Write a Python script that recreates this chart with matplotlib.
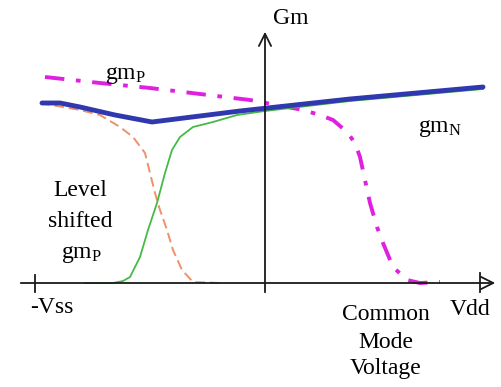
import matplotlib
matplotlib.use("Agg")
import matplotlib.pyplot as plt

plt.rcParams['font.family'] = ['Liberation Serif', 'DejaVu Serif']
plt.rcParams['mathtext.fontset'] = 'custom'
plt.rcParams['mathtext.rm'] = 'Liberation Serif'
plt.rcParams['mathtext.it'] = 'Liberation Serif:italic'

# Curves (x: common-mode voltage, y: Gm), origin at the axes crossing
blue_x = [-223, -205, -185, -150, -113, -25, 85, 218]
blue_y = [180, 180, 176, 168, 161, 172, 184, 196]

green_x = [-180, -152, -142, -135, -125, -117, -108, -100, -93, -85, -72, -52, -28, 0, 85, 218]
green_y = [0, 0, 2, 6, 26, 53, 80, 110, 133, 146, 156, 161, 168, 172, 182, 194]

orange_x = [-225, -185, -165, -145, -132, -120, -115, -110, -105, -98, -92, -83, -72, -45]
orange_y = [180, 173, 168, 156, 146, 130, 110, 90, 73, 53, 33, 13, 1, 0]

magenta_x = [-220, -165, -115, -65, -15, 38, 55, 68, 82, 90, 95, 100, 105, 112, 118, 128, 142, 155, 175]
magenta_y = [206, 200, 195, 189, 183, 173, 168, 163, 151, 140, 126, 103, 80, 56, 40, 16, 3, 0, 1]

fig = plt.figure(figsize=(5.01, 3.87), dpi=100)
ax = fig.add_axes([0, 0, 1, 1])
ax.set_xlim(-265, 236)
ax.set_ylim(-104, 283)
ax.axis('off')

axis_col = '#1a1a1a'
# axes with open arrowheads
ax.annotate('', xy=(233, 0), xytext=(-247, 0),
            arrowprops=dict(arrowstyle='->', lw=1.3, color=axis_col, mutation_scale=22))
ax.annotate('', xy=(0, 254), xytext=(0, -12),
            arrowprops=dict(arrowstyle='->', lw=1.3, color=axis_col, mutation_scale=22))
# tick marks
ax.plot([-230, -230], [-9, 8], color=axis_col, lw=1.3)
ax.plot([215, 215], [-9, 10], color=axis_col, lw=1.3)

ax.plot(magenta_x, magenta_y, color='#e020e0', lw=2.8, ls=(0, (5, 3, 1.2, 3)))
ax.plot(orange_x, orange_y, color='#f0906a', lw=1.4, ls=(0, (5, 2.5)))
ax.plot(green_x, green_y, color='#44bb44', lw=1.3)
ax.plot(blue_x, blue_y, color='#3038b0', lw=3.5, solid_capstyle='round')

fs = 17
ax.text(8, 264, 'Gm', fontsize=fs, ha='left', va='center')
ax.text(-160, 204, r'gm$_\mathrm{P}$', fontsize=fs, ha='left', va='baseline')
ax.text(153, 151, r'gm$_\mathrm{N}$', fontsize=fs, ha='left', va='baseline')
ax.text(-185, 87, 'Level', fontsize=fs, ha='center', va='baseline')
ax.text(-185, 56, 'shifted', fontsize=fs, ha='center', va='baseline')
ax.text(-184, 25, r'gm$_\mathrm{P}$', fontsize=fs, ha='center', va='baseline')
ax.text(-213, -30, '-Vss', fontsize=fs, ha='center', va='baseline')
ax.text(185, -32, 'Vdd', fontsize=fs, ha='left', va='baseline')
ax.text(121, -37, 'Common', fontsize=fs, ha='center', va='baseline')
ax.text(121, -65, 'Mode', fontsize=fs, ha='center', va='baseline')
ax.text(121, -91, 'Voltage', fontsize=fs, ha='center', va='baseline')

fig.savefig('out.png', dpi=100)
